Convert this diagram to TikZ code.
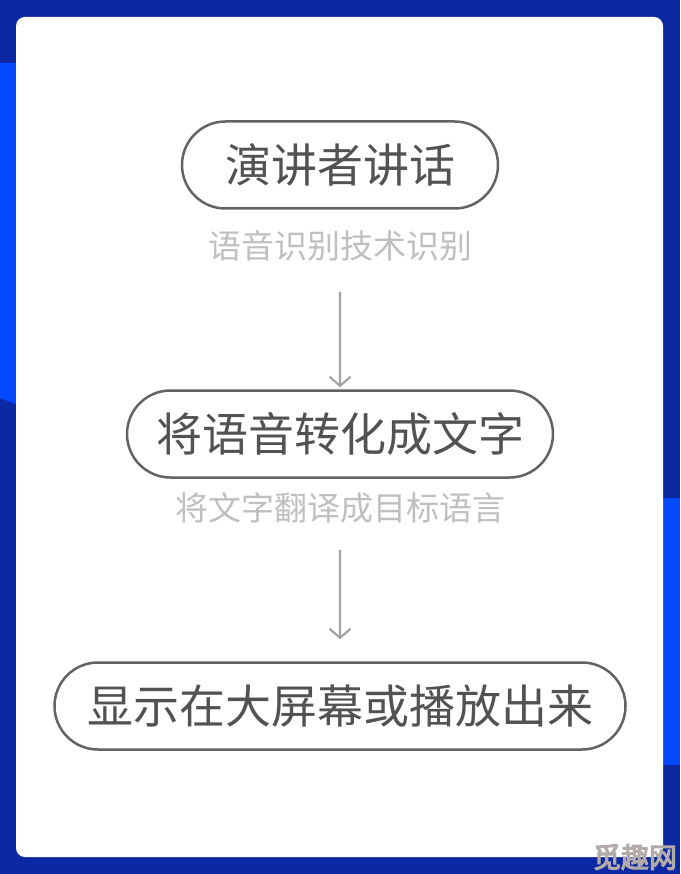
\documentclass[tikz,border=0pt]{standalone}
\usepackage{fontspec}
\usepackage{xcolor}
\usetikzlibrary{shapes.misc, arrows.meta, positioning}
\newfontfamily\cjk{Noto Sans CJK SC}
\newfontfamily\cjkheavy[FakeBold=4]{Noto Sans CJK SC}
\definecolor{deepblue}{HTML}{0C28A2}
\definecolor{brightblue}{HTML}{0448FF}
\definecolor{pillgray}{HTML}{636363}
\definecolor{textgray}{HTML}{525252}
\definecolor{notegray}{HTML}{BFBFBF}
\definecolor{arrowgray}{HTML}{A3A3A3}
\definecolor{markgray}{HTML}{B3AAAA}

\begin{document}
\begin{tikzpicture}[
    x=1pt, y=-1pt,
    pill/.style={rounded rectangle, draw=pillgray, line width=2.5pt, minimum height=87pt, inner sep=0pt, text=textgray, font=\cjk\fontsize{46}{50}\selectfont},
    note/.style={inner sep=0pt, text=notegray, font=\cjk\fontsize{33}{36}\selectfont},
    arr/.style={-{Straight Barb[length=9pt, width=21pt]}, line width=2.2pt, draw=arrowgray}
]

\useasboundingbox (0,0) rectangle (680,874);
\fill[deepblue] (0,0) rectangle (680,874);
\fill[brightblue] (0,63) -- (20,63) -- (20,406) .. controls (10,402) .. (0,398) -- cycle;
\fill[brightblue] (660,498) rectangle (680,765);
\fill[white] (16,17) [rounded corners=9pt] rectangle (663,857);

\node[pill, minimum width=316pt] (speaker) at (340,165) {演讲者讲话};
\node[note, below=21pt of speaker] (asr) {语音识别技术识别};

\node[pill, minimum width=426pt] (convert) at (340,434) {将语音转化成文字};
\node[note, below=14pt of convert] (translate) {将文字翻译成目标语言};

\node[pill, minimum width=571pt] (display) at (340,706) {显示在大屏幕或播放出来};

\draw[arr, shorten <=30pt, shorten >=2pt] (asr) -- (convert);
\draw[arr, shorten <=26pt, shorten >=22pt] (translate) -- (display);

\node[text=markgray, font=\cjkheavy\fontsize{28}{30}\selectfont, inner sep=0pt] (mark) at (635,857) {觅趣网};

\end{tikzpicture}
\end{document}
